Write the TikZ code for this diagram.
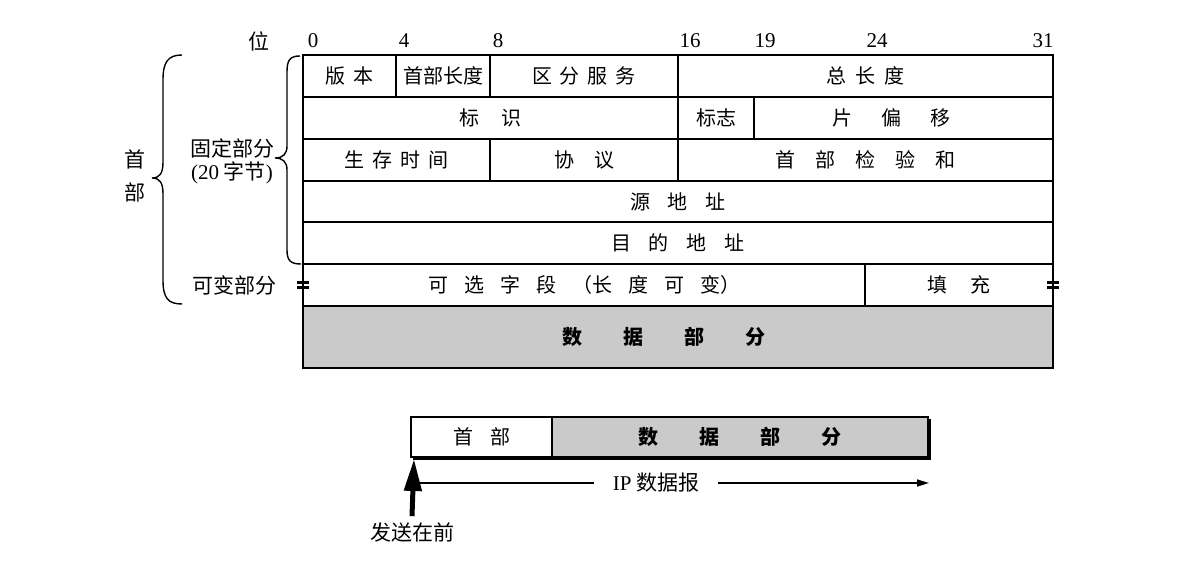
\documentclass[tikz,border=0pt]{standalone}
\usepackage{fontspec}
\setmainfont{Noto Sans CJK SC}
\newfontfamily\lat{Liberation Serif}
\usetikzlibrary{fit,arrows.meta}
\definecolor{datagray}{RGB}{202,202,202}
\newcommand\g[1]{\hspace{#1em}}
\begin{document}
\begin{tikzpicture}[x=0.5pt,y=-0.5pt,
  every node/.style={font=\fontsize{10}{12}\selectfont},
  cellbox/.style={draw,line width=0.7pt,inner sep=0pt},
  datacell/.style={cellbox,fill=datagray},
  celltext/.style={inner sep=0pt,anchor=center},
  bitlbl/.style={font=\fontsize{10.5}{12}\selectfont\lat},
  sidelbl/.style={font=\fontsize{10.5}{11.5}\selectfont,align=center},
  bracepath/.style={line width=0.7pt},
  tick/.style={line width=1.1pt}]
\useasboundingbox[fill=white] (0,0) rectangle (1179,566);
% bit positions
\node[bitlbl] (wei) at (259,41) {\rmfamily 位};
\node[bitlbl] (b0) at (313,41) {0};
\node[bitlbl] (b4) at (404,41) {4};
\node[bitlbl] (b8) at (498,41) {8};
\node[bitlbl] (b16) at (690,41) {16};
\node[bitlbl] (b19) at (765,41) {19};
\node[bitlbl] (b24) at (877,41) {24};
\node[bitlbl] (b31) at (1043,41) {31};
% row 1
\node[cellbox,fit={(303,55)(396,97)}] (ver) {};
\node[cellbox,fit={(396,55)(490,97)}] (ihl) {};
\node[cellbox,fit={(490,55)(678,97)}] (ds) {};
\node[cellbox,fit={(678,55)(1053,97)}] (tl) {};
% row 2
\node[cellbox,fit={(303,97)(678,139)}] (idn) {};
\node[cellbox,fit={(678,97)(754,139)}] (flg) {};
\node[cellbox,fit={(754,97)(1053,139)}] (frag) {};
% row 3
\node[cellbox,fit={(303,139)(490,181)}] (ttl) {};
\node[cellbox,fit={(490,139)(678,181)}] (proto) {};
\node[cellbox,fit={(678,139)(1053,181)}] (csum) {};
% row 4, 5
\node[cellbox,fit={(303,181)(1053,222)}] (src) {};
\node[cellbox,fit={(303,222)(1053,264)}] (dst) {};
% row 6
\node[cellbox,fit={(303,264)(865,306)}] (opt) {};
\node[cellbox,fit={(865,264)(1053,306)}] (pad) {};
% data
\node[datacell,fit={(303,306)(1053,368)}] (data) {};
% cell texts
\node[celltext] (verT) at (ver.center) {版\g{0.4}本};
\node[celltext] (ihlT) at (ihl.center) {首部长度};
\node[celltext] (dsT) at (ds.center) {区\g{0.4}分\g{0.4}服\g{0.4}务};
\node[celltext] (tlT) at (tl.center) {总\g{0.45}长\g{0.45}度};
\node[celltext] (idnT) at (idn.center) {标\g{1.15}识};
\node[celltext] (flgT) at (flg.center) {标志};
\node[celltext] (fragT) at ([xshift=-6]frag.center) {片\g{1.45}偏\g{1.45}移};
\node[celltext] (ttlT) at (ttl.center) {生\g{0.4}存\g{0.4}时\g{0.4}间};
\node[celltext] (protoT) at (proto.center) {协\g{1}议};
\node[celltext] (csumT) at (csum.center) {首\g{1}部\g{1}检\g{1}验\g{1}和};
\node[celltext] (srcT) at (src.center) {源\g{0.9}地\g{0.9}址};
\node[celltext] (dstT) at (dst.center) {目\g{0.9}的\g{0.9}地\g{0.9}址};
\node[celltext] (optT) at (opt.center) {可\g{0.8}选\g{0.8}字\g{0.8}段\g{0.8}（长\g{0.8}度\g{0.8}可\g{0.8}变）};
\node[celltext] (padT) at (pad.center) {填\g{1.15}充};
\node[celltext] (dataT) at ([xshift=-7]data.center) {\bfseries 数\g{2.05}据\g{2.05}部\g{2.05}分};
% equals marks
\draw[tick] (297,282.5) -- (309,282.5) (297,287.5) -- (309,287.5);
\draw[tick] (1047,282.5) -- (1059,282.5) (1047,287.5) -- (1059,287.5);
% braces
\draw[bracepath] (300,56) .. controls (290,56) and (287,60) .. (287,72) -- (287,146)
  .. controls (287,154) and (283,158) .. (275,158)
  .. controls (283,158) and (287,162) .. (287,170) -- (287,250)
  .. controls (287,261) and (291,264) .. (301,264);
\draw[bracepath] (182,55) .. controls (168,55) and (163,62) .. (163,80) -- (163,162)
  .. controls (163,173) and (160,178) .. (152,178)
  .. controls (160,178) and (163,183) .. (163,194) -- (163,280)
  .. controls (163,298) and (168,304) .. (182,304);
% side labels
\node[sidelbl] (hdr) at (135,176) {首\\[5pt]部};
\node[sidelbl] (fixed) at (232,161) {固定部分\\{\lat (20} 字节{\lat )}};
\node[sidelbl] (var) at (234,285) {可变部分};
% bottom datagram
\draw[line width=1.2pt] (413,459) -- (929.5,459) -- (929.5,419);
\node[cellbox,fit={(411,417)(552,457)}] (bhdr) {};
\node[datacell,fit={(552,417)(928,457)}] (bdata) {};
\node[celltext] (bhdrT) at (bhdr.center) {首\g{0.85}部};
\node[celltext] (bdataT) at (bdata.center) {\bfseries 数\g{2.05}据\g{2.05}部\g{2.05}分};
% IP datagram span
\coordinate (ipl) at (414,483);
\coordinate (ipr) at (929,483);
\node[fill=white,inner xsep=9pt,font=\fontsize{10.5}{12}\selectfont] (ip) at (656,483) {{\lat IP} 数据报};
\draw[line width=0.8pt] (ipl) -- (ip);
\draw[line width=0.8pt,-{Triangle[length=6pt,width=3.5pt]}] (ip) -- (ipr);
% send-first arrow
\node[sidelbl] (send) at (412,533) {发送在前};
\coordinate (tipc) at (414,459);
\draw[line width=2.5pt,-{Triangle[length=16pt,width=8.5pt]}] (send.north) -- (tipc);
\end{tikzpicture}
\end{document}
